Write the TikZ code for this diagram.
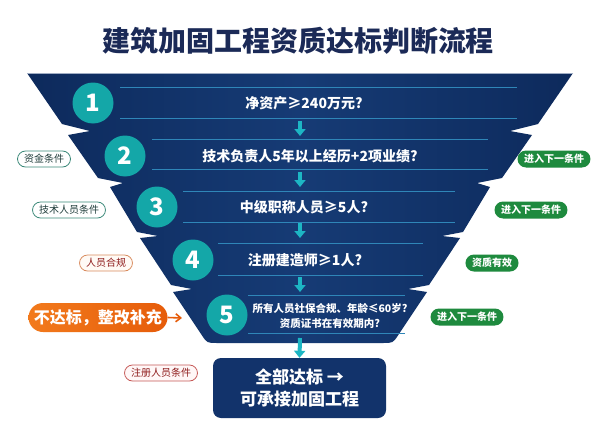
\documentclass[tikz,border=0pt]{standalone}
\usepackage{fontspec}
\setmainfont{Noto Sans CJK SC}
\usetikzlibrary{arrows.meta,shapes.misc}
\definecolor{navy}{HTML}{12336B}
\definecolor{navyedge}{HTML}{0D2A5C}
\definecolor{navymid}{HTML}{163B75}
\definecolor{titlecol}{HTML}{1B2A57}
\definecolor{tealc}{HTML}{14A7A8}
\definecolor{arrowc}{HTML}{1DB6C4}
\definecolor{linec}{HTML}{2F86B8}
\definecolor{greenc}{HTML}{1E8A3E}
\definecolor{orangeL}{HTML}{F27A1C}
\definecolor{orangeR}{HTML}{E65C0A}
\definecolor{tealline}{HTML}{3A8878}
\definecolor{tealtext}{HTML}{1F3C3A}
\definecolor{brownline}{HTML}{D98C5F}
\definecolor{redline}{HTML}{C65A58}
\definecolor{redtext}{HTML}{8E1B1B}
\begin{document}
\begin{tikzpicture}[x=1pt,y=-1pt,
  numcircle/.style={circle,fill=tealc,minimum size=41pt,inner sep=0pt,text=white,font=\fontsize{24pt}{26pt}\selectfont\bfseries},
  stagetext/.style={text=white,inner sep=0pt,font=\fontsize{14pt}{16pt}\selectfont\bfseries},
  sepline/.style={draw=linec,line width=0.8pt},
  flowarrow/.style={draw=arrowc,line width=4pt,-{Triangle[width=11pt,length=7pt]}},
  outpill/.style={rounded rectangle,draw,line width=0.8pt,fill=white,inner xsep=5pt,minimum height=16pt,inner ysep=0pt,font=\fontsize{10pt}{12pt}\selectfont},
  greenpill/.style={rounded rectangle,fill=greenc,text=white,inner xsep=5pt,minimum height=17pt,inner ysep=0pt,font=\fontsize{10pt}{12pt}\selectfont\bfseries},
]
\useasboundingbox (0,0) rectangle (600,423);
\fill[white] (0,0) rectangle (600,423);

% title
\node[text=titlecol,inner sep=0pt,font=\fontsize{28pt}{30pt}\selectfont\bfseries] (title) at (298,41) {建筑加固工程资质达标判断流程};

% funnel
\path[left color=navyedge,right color=navyedge,middle color=navymid]
  (300,343) -- (383,343) .. controls (393,343) .. (398.5,334.7)
  -- (427,292) -- (408,289) -- (429,285) -- (460,238) -- (442,236) -- (463,232)
  -- (490,187) -- (477,183) -- (502,178) -- (532,135) -- (510,131) -- (538,124)
  -- (573,73) -- (27,73)
  -- (62,124) -- (90,131) -- (68,135) -- (98,178) -- (123,183) -- (110,187)
  -- (137,232) -- (158,236) -- (140,238) -- (171,285) -- (192,289) -- (173,292)
  -- (201.5,334.7) .. controls (207,343) .. (217,343) -- cycle;
\draw[line width=1pt,color=navy!40!white] (27,73.5) -- (573,73.5);

% separator lines
\draw[sepline] (120,87) -- (517,87);
\draw[sepline] (120,118) -- (517,118);
\draw[sepline] (152,139) -- (488,139);
\draw[sepline] (152,169) -- (488,169);
\draw[sepline] (183,191) -- (455,191);
\draw[sepline] (183,222) -- (455,222);
\draw[sepline] (218,243) -- (423,243);
\draw[sepline] (218,275) -- (423,275);
\draw[sepline] (248,295) -- (405,295);
\draw[sepline] (248,333) -- (405,333);

% circles
\node[numcircle] (c1) at (93,103) {1};
\node[numcircle] (c2) at (125,156) {2};
\node[numcircle] (c3) at (157,207) {3};
\node[numcircle] (c4) at (193,260) {4};
\node[numcircle] (c5) at (227,315) {5};

% stage texts
\node[stagetext] (t1) at (304,103) {净资产≥240万元?};
\node[stagetext] (t2) at (310,156) {技术负责人5年以上经历+2项业绩?};
\node[stagetext] (t3) at (304,207) {中级职称人员≥5人?};
\node[stagetext] (t4) at (305,260) {注册建造师≥1人?};
\node[stagetext,align=center,font=\fontsize{10.5pt}{15pt}\selectfont\bfseries] (t5) at (330,315.5) {所有人员社保合规、年龄≤60岁?\\资质证书在有效期内?};

% final box
\node[rectangle,rounded corners=8pt,fill=navy,minimum width=173pt,minimum height=60pt,text=white,align=center,inner sep=0pt,font=\fontsize{17pt}{22pt}\selectfont\bfseries] (fin) at (299.5,388) {全部达标 →\\可承接加固工程};

% flow arrows
\coordinate (a1s) at (300,121); \coordinate (a1e) at (300,136);
\coordinate (a2s) at (300,172); \coordinate (a2e) at (300,187);
\coordinate (a3s) at (300,223); \coordinate (a3e) at (300,238);
\coordinate (a4s) at (300,277); \coordinate (a4e) at (300,292);
\coordinate (a5s) at (300,338);
\draw[flowarrow] (a1s) -- (a1e);
\draw[flowarrow] (a2s) -- (a2e);
\draw[flowarrow] (a3s) -- (a3e);
\draw[flowarrow] (a4s) -- (a4e);
\draw[flowarrow] (a5s) -- (fin.north);

% left labels
\node[outpill,draw=tealline,text=tealtext] (l1) at (44,159) {资金条件};
\node[outpill,draw=tealline,text=tealtext] (l2) at (69,210) {技术人员条件};
\node[outpill,draw=brownline,fill=orange!4,text=redtext] (l3) at (106,263) {人员合规};
\node[outpill,draw=redline,fill=red!3,text=redtext] (l4) at (161,373) {注册人员条件};

% orange fail pill
\node[rounded rectangle,left color=orangeL,right color=orangeR,text=white,minimum height=29pt,minimum width=139pt,inner sep=0pt,font=\fontsize{16pt}{18pt}\selectfont\bfseries] (fail) at (98,317.5) {不达标，整改补充};
\coordinate (failend) at (182,318);
\draw[draw=orangeR,line width=1.6pt,-{Straight Barb[width=8pt,length=5pt]}] (fail.east) -- (failend);

% right labels
\node[greenpill] (r1) at (554,159) {进入下一条件};
\node[greenpill] (r2) at (531,210) {进入下一条件};
\node[greenpill] (r3) at (492,263) {资质有效};
\node[greenpill] (r4) at (467,317) {进入下一条件};
\end{tikzpicture}
\end{document}
